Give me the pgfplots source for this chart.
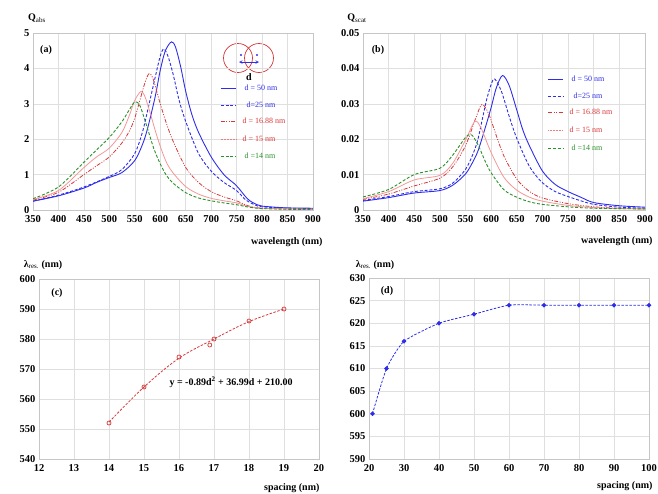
\documentclass[border=0pt]{standalone}
\usepackage{fontspec}
\setmainfont{Liberation Serif}
\usepackage{pgfplots}
\pgfplotsset{compat=1.18}
\definecolor{cblue}{RGB}{45,45,235}
\definecolor{cred}{RGB}{215,55,55}
\definecolor{cpink}{RGB}{244,150,150}
\definecolor{cgreen}{RGB}{40,145,40}
\pgfplotsset{
  panel/.style={
    scale only axis, width=280pt, height=177pt,
    axis line style={gray!45}, grid=major, grid style={gray!25, line width=0.5pt},
    tick style={draw=none},
    xticklabel style={font=\bfseries\fontsize{10.5}{12}\selectfont, yshift=-2pt},
    yticklabel style={font=\bfseries\fontsize{10.5}{12}\selectfont},
    scaled ticks=false,
  },
  l50/.style={color=cblue, line width=0.9pt},
  l25/.style={color=cblue, line width=0.9pt, dash pattern=on 3pt off 1.8pt},
  l16/.style={color=cred, line width=0.8pt, dash pattern=on 4pt off 1.5pt on 1pt off 1.5pt on 1pt off 1.5pt},
  l15/.style={color=cpink, line width=0.8pt},
  l15leg/.style={color=cpink!75!cred, line width=0.9pt, dash pattern=on 1pt off 0.5pt},
  l14/.style={color=cgreen, line width=0.9pt, dash pattern=on 3pt off 1.8pt},
}
\newcommand{\lf}{\fontsize{8}{9}\selectfont}
\begin{document}
\begin{tikzpicture}
\path[use as bounding box] (0,0) rectangle (658pt,-493pt);
\path[draw=cred, line width=0.7pt] (238pt,-58pt) circle (14.5pt);
\path[draw=cred, line width=0.7pt] (259pt,-58pt) circle (14.5pt);
\path[fill=cblue] (241pt,-55pt) circle (1.2pt);
\path[fill=cblue] (257pt,-55pt) circle (1.2pt);
\path[draw=cblue, line width=0.6pt, <->, >=stealth] (239pt,-62pt) -- (259pt,-62pt);
% ---------------- (a)
\begin{axis}[panel, at={(33pt,-210pt)}, anchor=south west,
  xmin=350, xmax=900, ymin=0, ymax=5,
  xtick={350,400,...,900}, xticklabels={350,400,450,500,550,600,650,700,750,800,850,900},
  ytick={0,1,...,5}, yticklabels={0,1,2,3,4,5}]
\addplot[l50, smooth, tension=0.5] coordinates {
(350,0.25)(400,0.4)(450,0.62)(475,0.78)(500,0.92)(525,1.06)(550,1.4)(565,1.85)(575,2.3)(590,3.2)(600,3.95)(610,4.5)(622,4.75)(630,4.6)(640,4.05)(650,3.35)(662,2.7)(675,2.2)(700,1.5)(725,1.0)(745,0.75)(755,0.6)(765,0.42)(775,0.27)(790,0.15)(800,0.11)(825,0.08)(850,0.06)(900,0.05)};
\addplot[l25, smooth, tension=0.5] coordinates {
(350,0.25)(400,0.42)(450,0.65)(500,0.95)(525,1.15)(550,1.6)(565,2.2)(575,2.8)(590,3.75)(600,4.35)(607,4.55)(615,4.35)(625,3.85)(637,3.1)(650,2.5)(675,1.6)(700,1.1)(725,0.78)(745,0.6)(755,0.48)(765,0.32)(775,0.22)(790,0.12)(800,0.09)(850,0.05)(900,0.04)};
\addplot[l16, smooth, tension=0.5] coordinates {
(350,0.28)(400,0.5)(450,1.0)(475,1.25)(500,1.5)(525,1.9)(540,2.25)(550,2.6)(560,3.1)(570,3.6)(578,3.85)(586,3.7)(600,3.0)(612,2.45)(625,1.95)(650,1.2)(675,0.78)(700,0.52)(725,0.37)(750,0.26)(765,0.16)(780,0.09)(800,0.05)(850,0.03)(900,0.02)};
\addplot[l15, smooth, tension=0.5] coordinates {
(350,0.3)(400,0.55)(450,1.2)(475,1.5)(500,1.75)(525,2.2)(540,2.7)(550,3.1)(562,3.35)(570,3.2)(580,2.75)(590,2.25)(600,1.8)(612,1.35)(625,1.05)(650,0.66)(675,0.45)(700,0.33)(725,0.26)(750,0.2)(770,0.11)(790,0.06)(800,0.05)(850,0.03)(900,0.02)};
\addplot[l14, smooth, tension=0.5] coordinates {
(350,0.32)(400,0.65)(450,1.35)(475,1.7)(500,2.05)(525,2.5)(540,2.85)(550,3.05)(560,2.95)(575,2.3)(587,1.75)(600,1.3)(612,0.98)(625,0.76)(650,0.49)(675,0.34)(700,0.26)(725,0.2)(750,0.15)(770,0.09)(790,0.05)(800,0.04)(850,0.02)(900,0.02)};
% legend samples
\addplot[l50, forget plot] coordinates {(719,3.446)(749,3.446)};
\addplot[l25, forget plot] coordinates {(719,2.966)(749,2.966)};
\addplot[l16, forget plot] coordinates {(719,2.514)(749,2.514)};
\addplot[l15leg, forget plot] coordinates {(719,2.006)(749,2.006)};
\addplot[l14, forget plot] coordinates {(719,1.525)(749,1.525)};
\end{axis}
% ---------------- (b)
\begin{axis}[panel, at={(363pt,-210pt)}, anchor=south west, width=282pt,
  xmin=350, xmax=900, ymin=0, ymax=0.05,
  xtick={350,400,...,900}, xticklabels={350,400,450,500,550,600,650,700,750,800,850,900},
  ytick={0,0.01,0.02,0.03,0.04,0.05},
  yticklabels={0,0.01,0.02,0.03,0.04,0.05}]
\addplot[l50, smooth, tension=0.5] coordinates {
(350,0.0025)(400,0.0035)(450,0.0048)(500,0.0055)(525,0.007)(550,0.0102)(565,0.0138)(575,0.017)(590,0.024)(600,0.029)(610,0.0345)(622,0.038)(635,0.0352)(650,0.0282)(662,0.0225)(675,0.018)(700,0.011)(725,0.0072)(750,0.0052)(775,0.0036)(800,0.0021)(850,0.0012)(900,0.0008)};
\addplot[l25, smooth, tension=0.5] coordinates {
(350,0.0027)(400,0.0038)(450,0.0052)(500,0.006)(525,0.0076)(550,0.0115)(565,0.016)(575,0.0205)(590,0.0305)(600,0.0355)(607,0.037)(620,0.0335)(635,0.0265)(650,0.0202)(675,0.0122)(700,0.0077)(725,0.0052)(750,0.0038)(775,0.0026)(800,0.0016)(850,0.0008)(900,0.0005)};
\addplot[l16, smooth, tension=0.5] coordinates {
(350,0.003)(400,0.0045)(450,0.0068)(500,0.009)(525,0.0122)(550,0.0182)(570,0.026)(582,0.0298)(595,0.0272)(610,0.021)(625,0.0152)(650,0.0087)(675,0.0052)(700,0.0034)(750,0.0018)(800,0.0009)(850,0.0005)(900,0.0003)};
\addplot[l15, smooth, tension=0.5] coordinates {
(350,0.0032)(400,0.0052)(450,0.0085)(500,0.0098)(525,0.0132)(550,0.0198)(568,0.025)(580,0.0232)(600,0.0162)(625,0.0092)(650,0.0056)(675,0.0036)(700,0.0025)(750,0.0013)(800,0.0007)(850,0.0004)(900,0.0003)};
\addplot[l14, smooth, tension=0.5] coordinates {
(350,0.0037)(400,0.0058)(450,0.01)(500,0.0118)(525,0.0155)(550,0.0205)(562,0.0212)(575,0.0182)(587,0.0142)(600,0.0105)(625,0.0057)(650,0.0036)(675,0.0023)(700,0.0016)(750,0.0009)(800,0.0005)(900,0.0003)};
% legend samples
\addplot[l50, forget plot] coordinates {(711,0.03701)(740,0.03701)};
\addplot[l25, forget plot] coordinates {(711,0.03220)(740,0.03220)};
\addplot[l16, forget plot] coordinates {(711,0.02768)(740,0.02768)};
\addplot[l15leg, forget plot] coordinates {(711,0.02260)(740,0.02260)};
\addplot[l14, forget plot] coordinates {(711,0.01751)(740,0.01751)};
\end{axis}
% ---------------- (c)
\begin{axis}[panel, at={(39pt,-459pt)}, anchor=south west, height=180pt,
  xmin=12, xmax=20, ymin=540, ymax=600,
  xtick={12,13,...,20}, xticklabels={12,13,14,15,16,17,18,19,20},
  ytick={540,550,...,600}, yticklabels={540,550,560,570,580,590,600}]
\addplot[color=cred, line width=0.8pt, dash pattern=on 2.5pt off 1.5pt, smooth, tension=0.6] coordinates {
(14,552.3)(15,564)(16,573.6)(17,580)(18,585.8)(19,590)};
\addplot[color=cred, only marks, mark=o, mark size=2pt, mark options={line width=0.7pt}] coordinates {
(14,552)(15,564)(16,574)(16.88,578)(17,580)(18,586)(19,590)};
\end{axis}
% ---------------- (d)
\begin{axis}[panel, at={(369pt,-459pt)}, anchor=south west, height=181pt,
  xmin=20, xmax=100, ymin=590, ymax=630,
  xtick={20,30,...,100}, xticklabels={20,30,40,50,60,70,80,90,100},
  ytick={590,595,...,630}, yticklabels={590,595,600,605,610,615,620,625,630}]
\addplot[color=cblue, line width=0.8pt, dash pattern=on 2.5pt off 1.5pt, smooth, tension=0.35, mark=*, mark size=1.8pt, mark options={solid}] coordinates {
(21,600)(25,610)(30,616)(40,620)(50,622)(60,624)(70,624)(80,624)(90,624)(100,624)};
\end{axis}
% ---------------- texts
\node[anchor=west, text=cblue, font=\lf] at (241pt,-88pt) {d = 50 nm};
\node[anchor=west, text=cblue, font=\lf] at (243pt,-105pt) {d=25 nm};
\node[anchor=west, text=cred, font=\lf] at (239pt,-121pt) {d = 16.88 nm};
\node[anchor=west, text=cred, font=\lf] at (239pt,-139pt) {d = 15 nm};
\node[anchor=west, text=cgreen, font=\lf] at (241pt,-156pt) {d =14 nm};
\node[anchor=west, text=cblue, font=\lf] at (568pt,-79pt) {d = 50 nm};
\node[anchor=west, text=cblue, font=\lf] at (570pt,-96pt) {d=25 nm};
\node[anchor=west, text=cred, font=\lf] at (566pt,-112pt) {d = 16.88 nm};
\node[anchor=west, text=cred, font=\lf] at (566pt,-130pt) {d = 15 nm};
\node[anchor=west, text=cgreen, font=\lf] at (568pt,-148pt) {d =14 nm};
\node[font=\bfseries\fontsize{10}{12}\selectfont] at (249pt,-77pt) {d};
\node[font=\bfseries\fontsize{10}{12}\selectfont] at (46pt,-50pt) {(a)};
\node[font=\fontsize{10}{12}\selectfont] at (37pt,-18pt) {{\bfseries Q}\textsubscript{abs}};
\node[font=\bfseries\fontsize{10}{12}\selectfont, anchor=east] at (326pt,-242pt) {wavelength (nm)};
\node[font=\bfseries\fontsize{10}{12}\selectfont] at (378pt,-50pt) {(b)};
\node[font=\fontsize{10}{12}\selectfont] at (357pt,-18pt) {{\bfseries Q}\textsubscript{scat}};
\node[font=\bfseries\fontsize{10}{12}\selectfont, anchor=east] at (656pt,-241pt) {wavelength (nm)};
\node[font=\bfseries\fontsize{10}{12}\selectfont] at (57pt,-293pt) {(c)};
\node[font=\bfseries\fontsize{10}{12}\selectfont, anchor=west] at (166pt,-382pt) {y = -0.89d\textsuperscript{2} + 36.99d + 210.00};
\node[font=\fontsize{10}{12}\selectfont] at (43pt,-265pt) {{\bfseries λ}\textsubscript{res.} \textbf{(nm)}};
\node[font=\bfseries\fontsize{10}{12}\selectfont, anchor=east] at (323pt,-488pt) {spacing (nm)};
\node[font=\bfseries\fontsize{10}{12}\selectfont] at (387pt,-291pt) {(d)};
\node[font=\fontsize{10}{12}\selectfont] at (375pt,-265pt) {{\bfseries λ}\textsubscript{res.} \textbf{(nm)}};
\node[font=\bfseries\fontsize{10}{12}\selectfont, anchor=east] at (656pt,-486pt) {spacing (nm)};
\end{tikzpicture}
\end{document}
